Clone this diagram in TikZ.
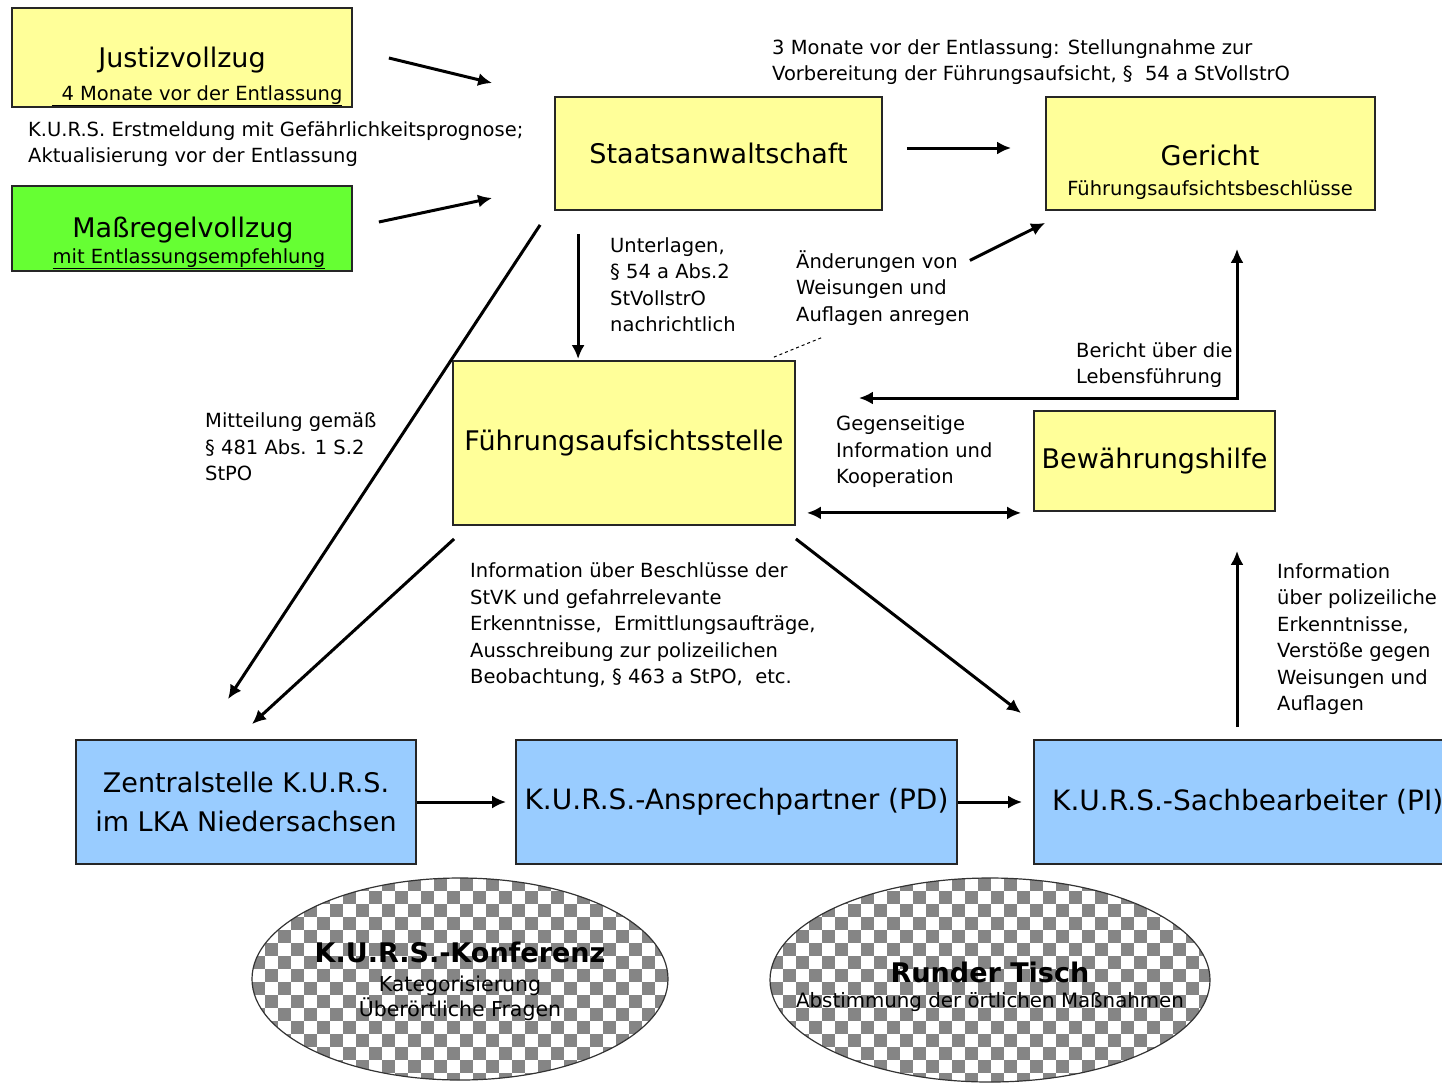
\documentclass[tikz,border=0pt]{standalone}
\usepackage{fontspec}
\setmainfont{DejaVu Sans}
\usetikzlibrary{arrows.meta,calc,shapes.geometric}
\definecolor{boxyellow}{HTML}{FFFF99}
\definecolor{boxgreen}{HTML}{66FF33}
\definecolor{boxblue}{HTML}{99CCFF}
\definecolor{checkgray}{HTML}{858585}
\newcommand\bigtxt{\fontsize{27}{39}\selectfont}
\newcommand\bigtxtb{\fontsize{28}{39}\selectfont}
\newcommand\smtxt{\fontsize{19.5}{26.5}\selectfont}
\newcommand\elltxt{\fontsize{20.5}{25}\selectfont}
\newcommand\elltxtb{\fontsize{19.8}{25}\selectfont}
\newcommand\ellbold{\fontsize{27}{30}\selectfont\bfseries}
\tikzset{
  box/.style={draw=black!85, line width=1.8pt, inner sep=0pt, align=center, font=\bigtxt},
  lbl/.style={inner sep=0pt, align=left, anchor=west, font=\smtxt},
  arr/.style={line width=3pt, -{Latex[length=14pt,width=13pt]}},
  darr/.style={line width=3pt, {Latex[length=14pt,width=13pt]}-{Latex[length=14pt,width=13pt]}},
  checks/.style={ellipse, draw=black!80, line width=1.2pt, inner sep=0pt, fill=white,
    path picture={
      \foreach \i in {0,2,...,34}{
        \foreach \j in {0,2,...,16}{
          \fill[checkgray] ($(path picture bounding box.north west)+(\i*13,\j*13)$) rectangle ++(13,13);
          \fill[checkgray] ($(path picture bounding box.north west)+(\i*13+13,\j*13+13)$) rectangle ++(13,13);
        }
      }
    }}
}
\begin{document}
\begin{tikzpicture}[x=1pt,y=-1pt]
\useasboundingbox (0,0) rectangle (1442,1088);
\fill[white] (0,0) rectangle (1442,1088);

% boxes
\node[box, fill=boxyellow, minimum width=340pt, minimum height=99pt] (jus) at (182,57.5) {};
\node[font=\bigtxt, inner sep=0pt] (jus-t) at (182,60) {Justizvollzug};
\node[font=\smtxt, inner sep=0pt, anchor=base] (jus-s) at (197,100) {\underline{\hspace{10pt}4 Monate vor der Entlassung}};

\node[box, fill=boxgreen, minimum width=340pt, minimum height=85pt] (mas) at (182,228.5) {};
\node[font=\bigtxt, inner sep=0pt] (mas-t) at (183,230) {Maßregelvollzug};
\node[font=\smtxt, inner sep=0pt, anchor=base] (mas-s) at (189,263) {\underline{mit Entlassungsempfehlung}};

\node[box, fill=boxyellow, minimum width=327pt, minimum height=113pt] (sta) at (718.5,153.5) {Staatsanwaltschaft};

\node[box, fill=boxyellow, minimum width=329pt, minimum height=113pt] (ger) at (1210.5,153.5) {};
\node[font=\bigtxt, inner sep=0pt] (ger-t) at (1210,155) {Gericht};
\node[font=\smtxt, inner sep=0pt] (ger-s) at (1210,190) {Führungsaufsichtsbeschlüsse};

\node[box, fill=boxyellow, minimum width=342pt, minimum height=164pt] (fas) at (624,443) {Führungsaufsichtsstelle};
\node[box, fill=boxyellow, minimum width=241pt, minimum height=100pt] (bew) at (1154.5,461) {Bewährungshilfe};

\node[box, fill=boxblue, minimum width=340pt, minimum height=124pt] (zen) at (246,802) {Zentralstelle K.U.R.S.\\im LKA Niedersachsen};
\node[box, fill=boxblue, minimum width=441pt, minimum height=124pt, font=\bigtxtb] (ans) at (736.5,802) {K.U.R.S.-Ansprechpartner (PD)};
\node[box, fill=boxblue, minimum width=426pt, minimum height=124pt] (sac) at (1247,802) {};
\node[font=\bigtxtb, inner sep=0pt, anchor=west] (sac-t) at (1052,802) {K.U.R.S.-Sachbearbeiter (PI)};

% ellipses
\node[checks, minimum width=416pt, minimum height=202pt] (kon) at (460,979) {};
\node[font=\ellbold, inner sep=0pt] (kon-t) at (460,952) {K.U.R.S.-Konferenz};
\node[font=\elltxt, inner sep=0pt, align=center] (kon-s) at (460,998) {Kategorisierung\\Überörtliche Fragen};

\node[checks, minimum width=440pt, minimum height=204pt] (run) at (990,980) {};
\node[font=\ellbold, inner sep=0pt] (run-t) at (990,972) {Runder Tisch};
\node[font=\elltxtb, inner sep=0pt] (run-s) at (990,1002) {Abstimmung der örtlichen Maßnahmen};

% labels
\node[lbl] (lab1) at (28,144) {K.U.R.S. Erstmeldung mit Gefährlichkeitsprognose;\\Aktualisierung vor der Entlassung};
\node[lbl] (lab2) at (772,62) {3 Monate vor der Entlassung: Stellungnahme zur\\Vorbereitung der Führungsaufsicht, §\ \ 54 a StVollstrO};
\node[lbl] (lab3) at (610,284.5) {Unterlagen,\\§ 54 a Abs.2\\StVollstrO\\nachrichtlich};
\node[lbl] (lab4) at (796,288) {Änderungen von\\Weisungen und\\Auflagen anregen};
\node[lbl] (lab5) at (205,447) {Mitteilung gemäß\\§ 481 Abs. 1 S.2\\StPO};
\node[lbl] (lab6) at (836,452) {Gegenseitige\\Information und\\Kooperation};
\node[lbl] (lab7) at (1076,365) {Bericht über die\\Lebensführung};
\node[lbl] (lab8) at (470,625.5) {Information über Beschlüsse der\\StVK und gefahrrelevante\\Erkenntnisse,\ \ Ermittlungsaufträge,\\Ausschreibung zur polizeilichen\\Beobachtung, § 463 a StPO,\ \ etc.};
\node[lbl] (lab9) at (1277,639) {Information\\über polizeiliche\\Erkenntnisse,\\Verstöße gegen\\Weisungen und\\Auflagen};

% connectors
\draw[arr] ($(jus.east)+(36,0.5)$) -- ($(sta.west)+(-62,-70.5)$);
\draw[arr] ($(mas.east)+(26,-6.5)$) -- ($(sta.west)+(-62,44.5)$);
\draw[arr] ($(sta.east)+(24,-5.5)$) -- ($(ger.west)+(-34,-5.5)$);
\draw[arr] ($(sta.south west)+(24,23)$) -- ($(fas.north west)+(126,-1)$);
\draw[arr] ($(sta.south west)+(-14,14)$) -- ($(zen.north)+(-18,-40)$);
\draw[arr] ($(fas.south west)+(2,13)$) -- ($(zen.north)+(6,-15)$);
\draw[arr] ($(fas.south east)+(0,13)$) -- ($(sac.north west)+(-12,-26)$);
\draw[arr] ($(lab4.north east)+(0,10)$) -- ($(ger.south west)+(0,12)$);
\draw[dashed, line width=1pt] ($(fas.north east)+(-22,-3)$) -- ($(fas.north east)+(27,-23)$);
\draw[darr] ($(fas.east)+(63,-45)$) -| ($(ger.south)+(26.5,38)$);
\draw[darr] ($(fas.south east)+(11,-13)$) -- ($(bew.south west)+(-12,1)$);
\draw[arr] ($(sac.north)+(-10,-12)$) -- ($(bew.south)+(82.5,39)$);
\draw[arr] (zen.east) -- ($(ans.west)+(-9,0)$);
\draw[arr] (ans.east) -- ($(sac.west)+(-11,0)$);
\end{tikzpicture}
\end{document}
